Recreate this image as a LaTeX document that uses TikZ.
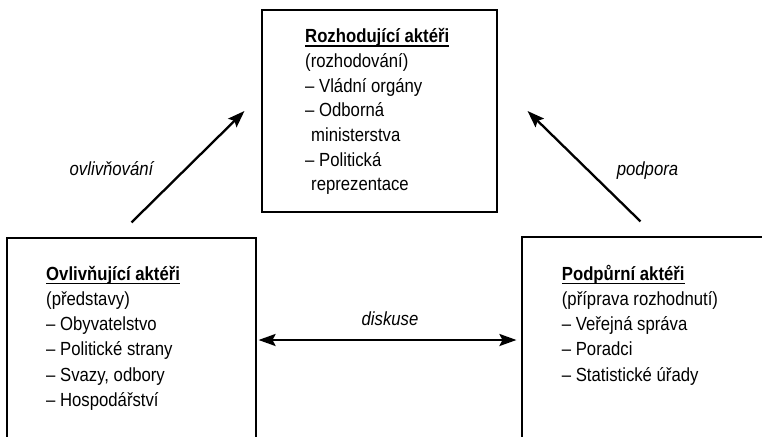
\documentclass[tikz,border=0pt]{standalone}
\usepackage{fontspec}
\setmainfont[FakeStretch=0.88]{Liberation Sans}
\usetikzlibrary{arrows.meta}
\newcommand\myul[1]{\setbox0\hbox{#1}\rlap{\rule[-4pt]{\wd0}{1.5pt}}\box0}
\newcommand\mylines[2]{\vtop{\baselineskip=#1\lineskiplimit=-20pt\lineskip=0pt #2}}
\tikzset{
  actorbox/.style={draw, line width=1.1pt, rectangle, inner sep=0pt},
  boxtext/.style={anchor=base west, inner sep=0pt, font=\fontsize{19}{25}\selectfont},
  flowlabel/.style={anchor=base, inner sep=0pt, font=\fontsize{19}{25}\selectfont\itshape},
  flowarrow/.style={line width=2.3pt, -{Stealth[length=17pt,width=12pt,inset=3pt]}},
  dualarrow/.style={line width=2.3pt, {Stealth[length=17pt,width=12pt,inset=3pt]}-{Stealth[length=17pt,width=12pt,inset=3pt]}}
}
\begin{document}
\begin{tikzpicture}[x=1pt,y=-1pt]
\useasboundingbox (0,0) rectangle (762,436);
\clip (0,0) rectangle (762,436);
% boxes
\node[actorbox, minimum width=235pt, minimum height=202pt] (T) at (379.5,111) {};
\node[actorbox, minimum width=249pt, minimum height=204pt] (L) at (131.5,340) {};
\node[actorbox, minimum width=249pt, minimum height=206pt] (R) at (646.5,340) {};
% texts
\node[boxtext] (Tt) at (305,42.7) {\mylines{24.7pt}{%
  \hbox{\bfseries\myul{Rozhodující aktéři}}%
  \hbox{(rozhodování)}%
  \hbox{– Vládní orgány}%
  \hbox{– Odborná}%
  \hbox{\kern6pt ministerstva}%
  \hbox{– Politická}%
  \hbox{\kern6pt reprezentace}}};
\node[boxtext] (Lt) at (46,280) {\mylines{25.3pt}{%
  \hbox{\bfseries\myul{Ovlivňující aktéři}}%
  \hbox{(představy)}%
  \hbox{– Obyvatelstvo}%
  \hbox{– Politické strany}%
  \hbox{– Svazy, odbory}%
  \hbox{– Hospodářství}}};
\node[boxtext] (Rt) at (561.7,280) {\mylines{25.3pt}{%
  \hbox{\bfseries\myul{Podpůrní aktéři}}%
  \hbox{(příprava rozhodnutí)}%
  \hbox{– Veřejná správa}%
  \hbox{– Poradci}%
  \hbox{– Statistické úřady}}};
% labels
\node[flowlabel] (lo) at (111.5,175) {ovlivňování};
\node[flowlabel] (lp) at (647.5,175) {podpora};
\node[flowlabel] (ld) at (390,325) {diskuse};
% arrows
\draw[flowarrow] ([yshift=15pt]L.north) -- ([xshift=-17pt]T.west);
\draw[flowarrow] ([xshift=-6pt,yshift=15pt]R.north) -- ([xshift=30pt]T.east);
\draw[dualarrow] ([xshift=2pt]L.east) -- ([xshift=-5pt]R.west);
\end{tikzpicture}
\end{document}
